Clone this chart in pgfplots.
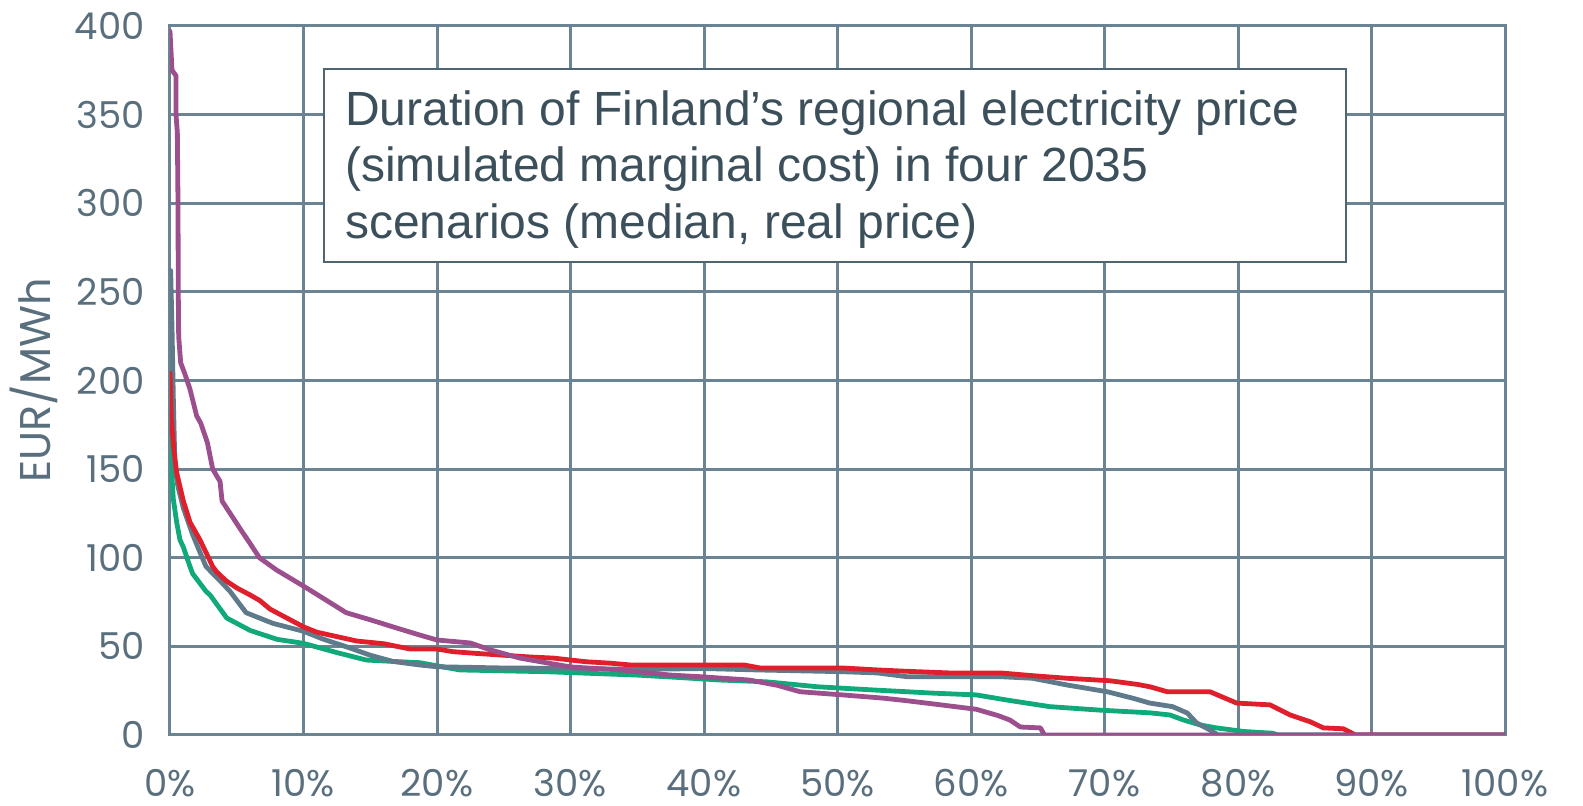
\documentclass[border=0pt]{standalone}
\usepackage{fontspec}
\setmainfont{Liberation Sans}
\newfontfamily\tickfont{Poppins}
\usepackage{pgfplots}
\pgfplotsset{compat=1.18}
\definecolor{gridc}{HTML}{6A8493}
\definecolor{tickc}{HTML}{5A6F7D}
\definecolor{titlec}{HTML}{3C505C}
\definecolor{boxc}{HTML}{4E6572}
\definecolor{redc}{HTML}{E01F2D}
\definecolor{greenc}{HTML}{0FA97A}
\definecolor{grayc}{HTML}{5F7B8B}
\definecolor{purplec}{HTML}{9B4F8C}
\begin{document}
\begin{tikzpicture}
\begin{axis}[
  scale only axis,
  width=667.5pt, height=354.5pt,
  xmin=0, xmax=100, ymin=0, ymax=400,
  xtick={0,10,...,100},
  xticklabels={0\%,10\%,20\%,30\%,40\%,50\%,60\%,70\%,80\%,90\%,100\%},
  ytick={0,50,...,400},
  yticklabels={0,50,100,150,200,250,300,350,400},
  major tick length=0pt,
  grid=major,
  grid style={gridc, line width=1.5pt},
  axis line style={gridc, line width=1.5pt},
  yticklabel style={font=\tickfont\fontsize{18.5pt}{20pt}\selectfont, text=tickc, anchor=east, inner sep=0pt, xshift=-12.5pt},
  xticklabel style={font=\tickfont\fontsize{18.5pt}{20pt}\selectfont, text=tickc, anchor=north, inner sep=0pt, yshift=-17pt},
  ylabel={EUR/MWh},
  ylabel style={font=\tickfont\fontsize{21.5pt}{23pt}\selectfont, text=tickc, at={(axis description cs:0,0.5)}, anchor=center, rotate=0, yshift=68pt},
  every axis plot/.append style={line width=2.4pt, line join=round, line cap=round},
]
\addplot[greenc] coordinates {
(0,182) (0.1,151) (0.25,133) (0.5,120) (0.75,110) (1.0,106) (1.5,95) (1.7,91)
(2.7,81) (3.0,79) (4.25,66) (4.5,65) (6.0,59) (8.0,54) (10,51.7) (12.5,46.5)
(14.7,42.3) (16.7,41.5) (18.7,40.8) (20,39) (21.7,36.7) (28.2,35.7) (35,33.8)
(38,32.5) (41.2,31) (44.7,30) (48.5,27.2) (52.7,25.4) (57.2,23.6) (60.4,22.6)
(62.7,19.7) (65.9,16) (69.7,14) (73.4,12.5) (74.9,11.3) (75.9,8.5) (77.2,5.6)
(78.4,4) (80.4,2) (82.6,1) (83,0) (100,0)};
\addplot[grayc] coordinates {
(0,262) (0.05,262) (0.15,230) (0.25,190) (0.37,151) (0.6,140) (1.0,128) (1.7,113)
(2.25,103) (2.7,95) (3.75,87) (4.5,81) (5.7,69) (7.7,63) (10,58.5) (11.5,54)
(13.2,49.8) (15,45) (16.7,41.5) (18.7,39.5) (20,38.5) (25,37.8) (30,37.6)
(35,37) (40,37.5) (44,36.7) (50.4,35.7) (53,35) (55.2,32.9) (62.2,32.9)
(64.6,32) (67.2,28.2) (70.2,24.4) (72.1,20.8) (73.4,18) (75.1,16) (76.2,12.4)
(76.9,6.8) (77.9,2.8) (78.5,0) (100,0)};
\addplot[redc] coordinates {
(0,204) (0.1,178) (0.3,160) (0.5,148) (1.0,132) (1.5,120) (2.25,110) (3.2,95)
(3.5,92) (4.2,87) (5.0,83) (6.0,79) (6.7,76) (7.5,71) (8.5,67) (10,61) (11,58)
(12.5,55.5) (14,53) (16,51.5) (18,48.5) (20,48.5) (21.2,47) (23,46) (25,45)
(27,44) (28.7,43.4) (31.2,41.3) (33,40.5) (34.5,39.5) (41.2,39.5) (43,39.5)
(44.2,37.8) (50.4,37.8) (53,36.7) (55,36) (58.4,35) (62.2,35) (64.9,33.3)
(67.2,32) (70.4,30.6) (72.5,28.5) (73.4,27.2) (74.7,24.4) (77.9,24.4) (79.9,18)
(82.4,17) (83.9,11.3) (85.4,7.5) (86.4,4) (87.9,3.5) (88.8,0) (100,0)};
\addplot[purplec] coordinates {
(0,397) (0.15,375) (0.45,372) (0.45,350) (0.55,340) (0.6,300) (0.62,250)
(0.65,225) (0.8,210) (1.1,204) (1.5,195) (2.0,180) (2.3,176) (2.8,165)
(3.2,150) (3.75,143) (3.9,132) (5.2,117) (6.0,108) (6.7,100) (8.0,93) (10,84)
(11.5,77) (13.2,69) (15,65) (16.7,61) (18.7,56.4) (20,53.6) (22.5,51.9) (24,48)
(26.2,43.4) (28,41) (30,38.4) (33.7,36.7) (37.5,33.8) (39.7,32.9) (43.4,31)
(45.5,28) (47.2,24.4) (50.4,22.6) (53.4,20.8) (55,19.5) (57.2,17.5) (60.4,14.5)
(62,11) (62.9,8.5) (63.7,4.5) (65.2,4) (65.5,0) (100,0)};
\draw[boxc, line width=1pt, fill=white] (axis cs:11.5,376) rectangle (axis cs:88.1,267);
\node[anchor=base west, inner sep=0pt, text=titlec, font=\fontsize{24pt}{28pt}\selectfont] at (axis cs:13.1,344) {Duration of Finland’s regional electricity price};
\node[anchor=base west, inner sep=0pt, text=titlec, font=\fontsize{24pt}{28pt}\selectfont] at (axis cs:13.1,312.1) {(simulated marginal cost) in four 2035};
\node[anchor=base west, inner sep=0pt, text=titlec, font=\fontsize{24pt}{28pt}\selectfont] at (axis cs:13.1,280.2) {scenarios (median, real price)};
\end{axis}
\pgfresetboundingbox
\path ([shift={(-85pt,-35.5pt)}]current axis.south west) rectangle ([shift={(39pt,13pt)}]current axis.north east);
\end{tikzpicture}
\end{document}
